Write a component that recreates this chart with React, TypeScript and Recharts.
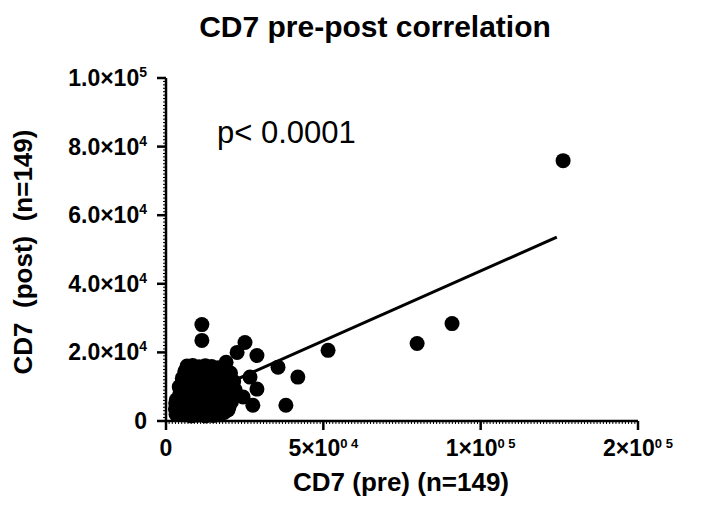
import { ScatterChart, Scatter, XAxis, YAxis, ReferenceLine } from 'recharts'

// CD7 pre (x) / post (y), same order in both arrays
const pre = [
  // spread-out points
  126200, 90900, 79800, 51500, 41900, 38100, 35600, 28900, 25100, 22600,
  26700, 28900, 24500, 27600, 11400, 11400, 19100,
  // edge of the dense cluster
  6700, 8500, 10500, 12500, 14500, 16500, 18000, 20500, 21500, 22000,
  21000, 20000, 18500, 17000, 15000, 12500, 10000, 8000, 6000, 4000,
  3200, 3000, 3300, 3300, 4200, 5200, 6000,
  // inside the cluster
  3500, 5000, 6500, 7500, 8800, 9500, 10800, 11500, 12800, 13500,
  14600, 15800, 16800, 17500, 18700, 19300, 9000, 7200, 5800, 10200,
  11900, 13900, 15200, 4800, 6200, 8200, 7900, 9900, 12300, 14200,
  16200, 13200, 11000, 8600, 6900, 3700, 10600, 12000, 14900, 17300,
  19500, 18900, 16000, 11300, 9600, 7400, 5500, 4500, 20200, 17800,
  15400, 9300, 7000, 5600, 13000, 10900, 8300, 12500, 14000, 6300,
  11800, 15600, 18100, 16600, 9800, 7700, 12900, 4100, 3100, 3600,
  20800, 19700, 13600, 8900, 10400, 14700, 6600, 11200, 16400, 5100,
  8000, 12700, 15100, 17600, 7300, 9900, 13800, 4700,
  6000, 7600, 9200, 10700, 11600, 12200, 13300, 14400, 15900, 8400,
  6800, 10000, 11400, 9400, 12600, 7100, 14100,
]

const post = [
  75900, 28400, 22600, 20600, 12800, 4600, 15700, 19100, 22900, 20000,
  12800, 9300, 7000, 4600, 28100, 23500, 17100,
  16000, 16200, 15800, 16100, 15900, 15500, 15200, 14000, 11500, 9000,
  6500, 4000, 2500, 1800, 1600, 1500, 1700, 1500, 1800, 2000,
  2000, 3500, 5500, 6200, 10000, 12500, 14500,
  3000, 4200, 3100, 5600, 4100, 6800, 3600, 8200, 5200, 9900,
  3900, 7400, 10800, 5600, 8500, 12300, 12000, 9400, 7800, 10400,
  12900, 13700, 12100, 5800, 10900, 13800, 7300, 8700, 7000, 6100,
  4700, 2900, 2400, 2700, 6400, 4600, 5900, 10900, 9800, 13300,
  9900, 6700, 14300, 14600, 14100, 12300, 9600, 8200, 7500, 3500,
  2600, 3300, 4500, 2800, 11800, 7400, 10200, 4300, 8200, 5300,
  5100, 6000, 11600, 8900, 11300, 15000, 15100, 6800, 5200, 3900,
  5600, 3200, 4800, 9300, 13000, 11100, 8600, 9500, 11900, 11300,
  6100, 13400, 4100, 7300, 1900, 2200, 2000, 3400,
  6000, 8000, 5000, 11800, 3200, 8800, 6500, 12800, 9900, 11600,
  13200, 4600, 6600, 15200, 9700, 10700, 14800,
]

// linear fit endpoints
const fitPre = [1000, 124200]
const fitPost = [3400, 53600]

const xMajorTicks = [0, 50000, 100000, 150000]
const xTickBase = ['0', '5×10', '1×10', '2×10']
const xTickSup = ['', '0 4', '0 5', '0 5']

const yMajorTicks = [0, 20000, 40000, 60000, 80000, 100000]
const yTickBase = ['0', '2.0×10', '4.0×10', '6.0×10', '8.0×10', '1.0×10']
const yTickSup = ['', '4', '4', '4', '4', '5']

// minor tick marks every 1000
const xMinorTicks = Array.from({ length: 151 }, (_, i) => i * 1000)
const yMinorTicks = Array.from({ length: 101 }, (_, i) => i * 1000)

const FONT = '"Liberation Sans", Arial, Helvetica, sans-serif'

const points = pre.map((x, i) => ({ x, y: post[i] }))

function XTick(props: any) {
  const { x, y, payload } = props
  const i = xMajorTicks.indexOf(payload.value)
  if (i < 0) return <line x1={x} x2={x} y1={y} y2={y + 3} stroke="#000" strokeWidth={1} />
  return (
    <g>
      <line x1={x} x2={x} y1={y} y2={y + 9} stroke="#000" strokeWidth={2.5} />
      <text x={x} y={y + 35} textAnchor="middle" fontFamily={FONT} fontWeight="bold" fontSize={23} fill="#000">
        {xTickBase[i]}
        {xTickSup[i] && <tspan dy={-8} fontSize={13}>{xTickSup[i]}</tspan>}
      </text>
    </g>
  )
}

function YTick(props: any) {
  const { x, y, payload } = props
  const i = yMajorTicks.indexOf(payload.value)
  if (i < 0) return <line x1={x - 3} x2={x} y1={y} y2={y} stroke="#000" strokeWidth={1} />
  return (
    <g>
      <line x1={x - 9} x2={x} y1={y} y2={y} stroke="#000" strokeWidth={2.5} />
      <text x={x - 19} y={y + 8} textAnchor="end" fontFamily={FONT} fontWeight="bold" fontSize={23} fill="#000">
        {yTickBase[i]}
        {yTickSup[i] && <tspan dy={-9} fontSize={14}>{yTickSup[i]}</tspan>}
      </text>
    </g>
  )
}

const Dot = (p: any) => <circle cx={p.cx} cy={p.cy} r={7.5} fill="#000" />

export default function App() {
  return (
    <div style={{ position: 'absolute', left: 0, top: 0, width: 721, height: 505, background: '#fff' }}>
      <ScatterChart width={721} height={505} margin={{ top: 78, right: 83, bottom: 0, left: 0 }}>
        <XAxis
          type="number"
          dataKey="x"
          domain={[0, 150000]}
          ticks={xMinorTicks}
          interval={0}
          height={84}
          tickSize={0}
          tickMargin={0}
          tickLine={false}
          tick={<XTick />}
          axisLine={{ stroke: '#000', strokeWidth: 2.5 }}
        />
        <YAxis
          type="number"
          dataKey="y"
          domain={[0, 100000]}
          ticks={yMinorTicks}
          interval={0}
          width={166}
          tickSize={0}
          tickMargin={0}
          tickLine={false}
          tick={<YTick />}
          axisLine={{ stroke: '#000', strokeWidth: 2.5 }}
        />
        <Scatter data={points} fill="#000" shape={Dot} isAnimationActive={false} />
        <ReferenceLine
          segment={[{ x: fitPre[0], y: fitPost[0] }, { x: fitPre[1], y: fitPost[1] }]}
          stroke="#000"
          strokeWidth={3}
        />
      </ScatterChart>
      <svg width={721} height={505} style={{ position: 'absolute', left: 0, top: 0, pointerEvents: 'none' }}>
        <text x={375} y={37} textAnchor="middle" fontFamily={FONT} fontWeight="bold" fontSize={30} fill="#000">
          CD7 pre-post correlation
        </text>
        <text x={217} y={143} fontFamily={FONT} fontSize={31} fill="#000">
          p{'<'} 0.0001
        </text>
        <text x={401} y={491} textAnchor="middle" fontFamily={FONT} fontWeight="bold" fontSize={26} fill="#000">
          CD7 (pre) (n=149)
        </text>
        <text
          transform="translate(32,252) rotate(-90)"
          textAnchor="middle"
          fontFamily={FONT}
          fontWeight="bold"
          fontSize={26}
          fill="#000"
          style={{ whiteSpace: 'pre' }}
        >
          {'CD7  (post)  (n=149)'}
        </text>
      </svg>
    </div>
  )
}
